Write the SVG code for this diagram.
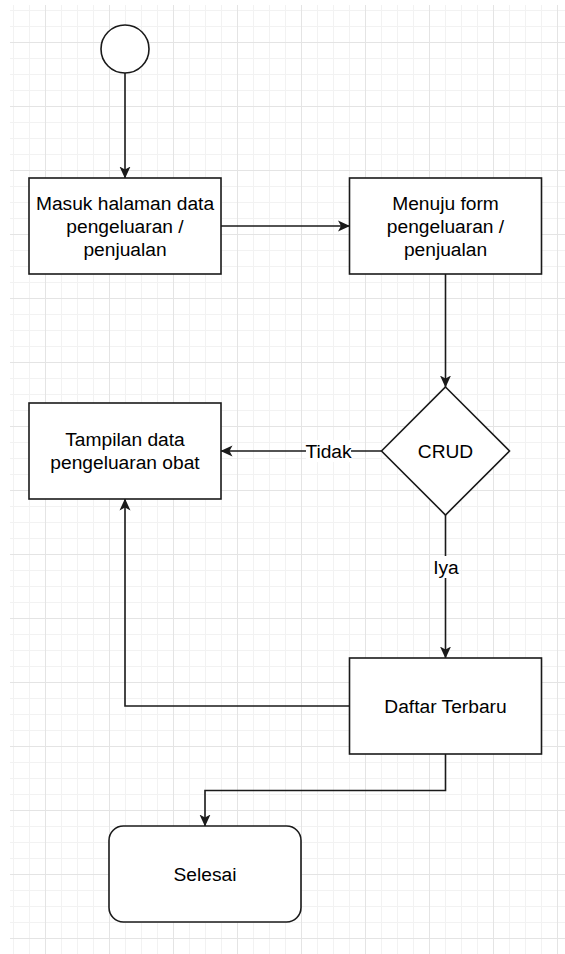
<svg xmlns="http://www.w3.org/2000/svg" width="565" height="954" viewBox="0 0 565 954">
<style>
.shape{fill:#fff;stroke:#1a1a1a;stroke-width:1.6}
.edge{fill:none;stroke:#1a1a1a;stroke-width:1.6}
.t{font-family:"Liberation Sans",Arial,sans-serif;font-size:19.2px;fill:#000;text-anchor:middle}
.lbl{fill:#fff}
</style>
<defs>
<pattern id="grid" patternUnits="userSpaceOnUse" x="45" y="42" width="64" height="64">
<rect x="16" y="0" width="1" height="64" fill="#f2f2f2"/>
<rect x="32" y="0" width="1" height="64" fill="#f2f2f2"/>
<rect x="48" y="0" width="1" height="64" fill="#f2f2f2"/>
<rect x="0" y="16" width="64" height="1" fill="#f2f2f2"/>
<rect x="0" y="32" width="64" height="1" fill="#f2f2f2"/>
<rect x="0" y="48" width="64" height="1" fill="#f2f2f2"/>
<rect x="0" y="0" width="1" height="64" fill="#e4e4e4"/>
<rect x="0" y="0" width="64" height="1" fill="#e4e4e4"/>
</pattern>
<marker id="arrow" markerUnits="userSpaceOnUse" viewBox="0 0 12 12" refX="11.5" refY="6" markerWidth="12" markerHeight="12" orient="auto">
<path d="M0,0.5 L12,6 L0,11.5 L3,6 Z" fill="#1a1a1a"/>
</marker>
</defs>
<rect width="565" height="954" fill="#fff"/>
<rect x="10" y="5" width="555" height="949" fill="url(#grid)"/>

<g id="connectors">
<path class="edge" d="M125 73 V178" marker-end="url(#arrow)"/>
<path class="edge" d="M221 226 H349.5" marker-end="url(#arrow)"/>
<path class="edge" d="M445.5 274 V387" marker-end="url(#arrow)"/>
<path class="edge" d="M381.5 451 H221" marker-end="url(#arrow)"/>
<path class="edge" d="M445.5 515 V658" marker-end="url(#arrow)"/>
<path class="edge" d="M349.5 706 H125 V499" marker-end="url(#arrow)"/>
<path class="edge" d="M445.5 754 V790.5 H205 V826" marker-end="url(#arrow)"/>
<g id="label-tidak">
<rect class="lbl" x="306" y="440" width="45" height="22"/>
<text class="t" x="328.5" y="457.7">Tidak</text>
</g>
<g id="label-iya">
<rect class="lbl" x="433" y="556" width="26" height="22"/>
<text class="t" x="446" y="573.7">Iya</text>
</g>
</g>

<g id="start">
<circle class="shape" cx="125" cy="49" r="24"/>
</g>
<g id="masuk">
<rect class="shape" x="29" y="178" width="192" height="96"/>
<text class="t" x="125" y="209.7">Masuk halaman data</text>
<text class="t" x="125" y="232.7">pengeluaran /</text>
<text class="t" x="125" y="255.7">penjualan</text>
</g>
<g id="menuju">
<rect class="shape" x="349.5" y="178" width="192" height="96"/>
<text class="t" x="445.5" y="209.7">Menuju form</text>
<text class="t" x="445.5" y="232.7">pengeluaran /</text>
<text class="t" x="445.5" y="255.7">penjualan</text>
</g>
<g id="crud">
<path class="shape" d="M445.5 387 L509.5 451 L445.5 515 L381.5 451 Z"/>
<text class="t" x="445.5" y="457.7">CRUD</text>
</g>
<g id="tampilan">
<rect class="shape" x="29" y="403" width="192" height="96"/>
<text class="t" x="125" y="446.2">Tampilan data</text>
<text class="t" x="125" y="469.2">pengeluaran obat</text>
</g>
<g id="daftar">
<rect class="shape" x="349.5" y="658" width="192" height="96"/>
<text class="t" x="445.5" y="712.7">Daftar Terbaru</text>
</g>
<g id="selesai">
<rect class="shape" x="109" y="826" width="192" height="96" rx="14.4" ry="14.4"/>
<text class="t" x="205" y="880.7">Selesai</text>
</g>
</svg>
